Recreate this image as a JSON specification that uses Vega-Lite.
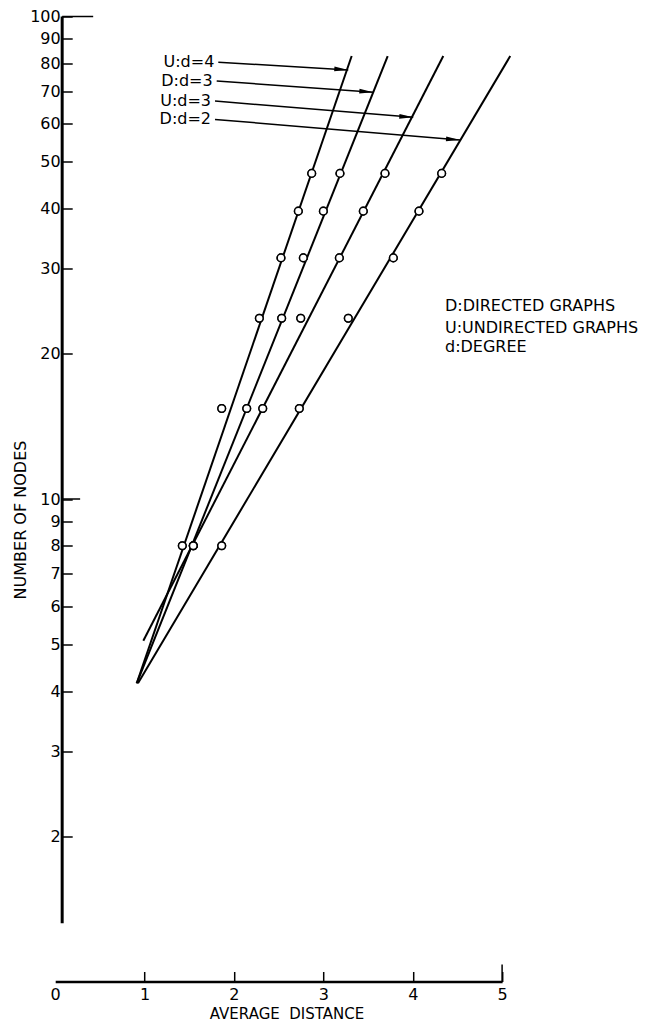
{
  "$schema": "https://vega.github.io/schema/vega-lite/v6.json",
  "autosize": "none",
  "width": 446.9,
  "height": 965,
  "padding": {"left": 55.2, "top": 16.5, "right": 146.9, "bottom": 41.5},
  "background": "white",
  "config": {
    "view": {"stroke": null},
    "font": "DejaVu Sans",
    "axis": {"labelFont": "DejaVu Sans", "titleFont": "DejaVu Sans", "labelColor": "black", "titleColor": "black", "tickColor": "black", "domainColor": "black", "grid": false, "titleFontWeight": "normal"},
    "text": {"font": "DejaVu Sans", "color": "black"}
  },
  "datasets": {
    "points": [
      {"series": "U:d=4", "x": 2.870, "y": 47.3}, {"series": "U:d=4", "x": 2.720, "y": 39.5}, {"series": "U:d=4", "x": 2.526, "y": 31.6}, {"series": "U:d=4", "x": 2.284, "y": 23.7}, {"series": "U:d=4", "x": 1.863, "y": 15.4}, {"series": "U:d=4", "x": 1.422, "y": 8},
      {"series": "D:d=3", "x": 3.186, "y": 47.3}, {"series": "D:d=3", "x": 3.000, "y": 39.5}, {"series": "D:d=3", "x": 2.776, "y": 31.6}, {"series": "D:d=3", "x": 2.534, "y": 23.7}, {"series": "D:d=3", "x": 2.143, "y": 15.4}, {"series": "D:d=3", "x": 1.545, "y": 8},
      {"series": "U:d=3", "x": 3.690, "y": 47.3}, {"series": "U:d=3", "x": 3.447, "y": 39.5}, {"series": "U:d=3", "x": 3.179, "y": 31.6}, {"series": "U:d=3", "x": 2.747, "y": 23.7}, {"series": "U:d=3", "x": 2.322, "y": 15.4}, {"series": "U:d=3", "x": 1.545, "y": 8},
      {"series": "D:d=2", "x": 4.324, "y": 47.3}, {"series": "D:d=2", "x": 4.070, "y": 39.5}, {"series": "D:d=2", "x": 3.783, "y": 31.6}, {"series": "D:d=2", "x": 3.279, "y": 23.7}, {"series": "D:d=2", "x": 2.731, "y": 15.4}, {"series": "D:d=2", "x": 1.863, "y": 8}
    ],
    "lines": [
      {"series": "U:d=4", "x": 0.912, "y": 4.15}, {"series": "U:d=4", "x": 3.317, "y": 82.8},
      {"series": "D:d=3", "x": 0.912, "y": 4.15}, {"series": "D:d=3", "x": 3.720, "y": 82.8},
      {"series": "U:d=3", "x": 0.986, "y": 5.085}, {"series": "U:d=3", "x": 4.342, "y": 82.8},
      {"series": "D:d=2", "x": 0.926, "y": 4.15}, {"series": "D:d=2", "x": 5.091, "y": 82.8}
    ],
    "arrows": [
      {"label": "U:d=4", "x": 1.825, "y": 80.4, "x2": 3.279, "y2": 77.5},
      {"label": "D:d=3", "x": 1.807, "y": 73.5, "x2": 3.559, "y2": 69.7},
      {"label": "U:d=3", "x": 1.788, "y": 66.8, "x2": 4.006, "y2": 61.8},
      {"label": "D:d=2", "x": 1.788, "y": 61.2, "x2": 4.529, "y2": 55.5}
    ],
    "notes": [
      {"text": "D:DIRECTED GRAPHS", "x": 4.361, "y": 25.1},
      {"text": "U:UNDIRECTED GRAPHS", "x": 4.361, "y": 22.65},
      {"text": "d:DEGREE", "x": 4.361, "y": 20.69}
    ],
    "yaxisline": [{"x": 0.078, "y": 1.32, "y2": 100}],
    "longticks": [{"x": 0.078, "x2": 0.279, "y": 10}, {"x": 0.078, "x2": 0.425, "y": 100}],
    "endtick": [{"x": 5, "y": 1, "y2": 1.084}]
  },
  "layer": [
    {
      "data": {"name": "points"},
      "mark": {"type": "point", "shape": "circle", "filled": true, "fill": "white", "stroke": "black", "strokeWidth": 1.5, "size": 58, "opacity": 1},
      "encoding": {
        "x": {"field": "x", "type": "quantitative", "scale": {"type": "linear", "domain": [0, 5], "nice": false, "zero": false},
          "axis": {"values": [0, 1, 2, 3, 4, 5], "format": "d", "tickSize": -10, "tickWidth": 1.5,
            "tickColor": {"condition": {"test": "datum.value === 0", "value": "transparent"}, "value": "black"},
            "labelPadding": 15, "labelFlush": false, "labelOverlap": false, "labelFontSize": 16,
            "domainWidth": 2.5, "title": "AVERAGE\u00a0 DISTANCE", "titleFontSize": 15, "titleX": 231.3, "titleY": 32, "titleBaseline": "middle", "titleAnchor": "start", "titleAlign": "center"}},
        "y": {"field": "y", "type": "quantitative", "scale": {"type": "log", "domain": [1, 100], "nice": false},
          "axis": {"values": [2, 3, 4, 5, 6, 7, 8, 9, 10, 20, 30, 40, 50, 60, 70, 80, 90, 100], "format": "d", "offset": -7, "domain": false,
            "tickSize": -10, "tickWidth": 1.5, "labelPadding": 12, "labelOverlap": false, "labelFontSize": 16, "labelBound": false, "labelFlush": false,
            "title": "NUMBER OF NODES", "titleFontSize": 16, "titleX": -42, "titleY": 503, "titleBaseline": "middle", "titleAnchor": "start", "titleAlign": "center"}}
      }
    },
    {
      "data": {"name": "yaxisline"},
      "mark": {"type": "rule", "strokeWidth": 3, "color": "black"},
      "encoding": {"x": {"field": "x", "type": "quantitative"}, "y": {"field": "y", "type": "quantitative"}, "y2": {"field": "y2"}}
    },
    {
      "data": {"name": "longticks"},
      "mark": {"type": "rule", "strokeWidth": 1.5, "color": "black"},
      "encoding": {"x": {"field": "x", "type": "quantitative"}, "x2": {"field": "x2"}, "y": {"field": "y", "type": "quantitative"}}
    },
    {
      "data": {"name": "endtick"},
      "mark": {"type": "rule", "strokeWidth": 1.5, "color": "black"},
      "encoding": {"x": {"field": "x", "type": "quantitative"}, "y": {"field": "y", "type": "quantitative"}, "y2": {"field": "y2"}}
    },
    {
      "data": {"name": "lines"},
      "mark": {"type": "line", "strokeWidth": 2, "color": "black"},
      "encoding": {"x": {"field": "x", "type": "quantitative"}, "y": {"field": "y", "type": "quantitative"}, "detail": {"field": "series"}}
    },
    {
      "data": {"name": "points"},
      "mark": {"type": "point", "shape": "circle", "filled": true, "fill": "white", "stroke": "black", "strokeWidth": 1.5, "size": 58, "opacity": 1},
      "encoding": {"x": {"field": "x", "type": "quantitative"}, "y": {"field": "y", "type": "quantitative"}}
    },
    {
      "data": {"name": "arrows"},
      "mark": {"type": "rule", "strokeWidth": 1.5, "color": "black"},
      "encoding": {"x": {"field": "x", "type": "quantitative"}, "y": {"field": "y", "type": "quantitative"}, "x2": {"field": "x2"}, "y2": {"field": "y2"}}
    },
    {
      "data": {"name": "arrows"},
      "mark": {"type": "point", "shape": "M0,0L-1,-0.17L-1,0.17Z", "filled": true, "color": "black", "size": 784, "angle": 4.3, "opacity": 1},
      "encoding": {"x": {"field": "x2", "type": "quantitative"}, "y": {"field": "y2", "type": "quantitative"}}
    },
    {
      "data": {"name": "arrows"},
      "mark": {"type": "text", "align": "right", "baseline": "middle", "dx": -4, "fontSize": 16, "color": "black"},
      "encoding": {"x": {"field": "x", "type": "quantitative"}, "y": {"field": "y", "type": "quantitative"}, "text": {"field": "label"}}
    },
    {
      "data": {"name": "notes"},
      "mark": {"type": "text", "align": "left", "baseline": "middle", "fontSize": 16, "color": "black"},
      "encoding": {"x": {"field": "x", "type": "quantitative"}, "y": {"field": "y", "type": "quantitative"}, "text": {"field": "text"}}
    }
  ]
}
